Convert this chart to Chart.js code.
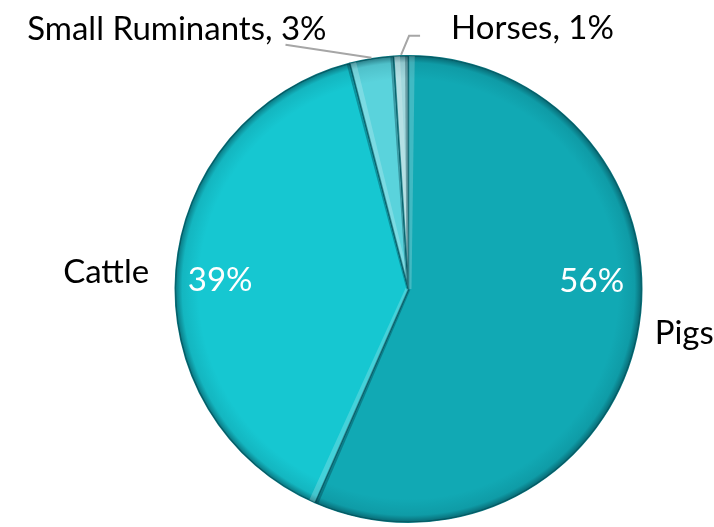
<!DOCTYPE html>
<html>
<head>
<meta charset="utf-8">
<script src="https://cdn.jsdelivr.net/npm/chart.js@4"></script>
<style>
  html, body { margin: 0; padding: 0; background: #fff; }
  #wrap { width: 714px; height: 527px; }
</style>
</head>
<body>
<div id="wrap"><canvas id="livestockChart"></canvas></div>
<script>
const categories = ["Pigs", "Cattle", "Small Ruminants", "Horses"];
const shares = [56, 39, 3, 1];
const sliceColors = ["#11a9b4", "#16c7d1", "#5ad3dc", "#a3d9de"];

const FONT = "Lato, 'Open Sans', sans-serif";

// soft bevel: dark rim along the outside, a shadow and a light seam along slice edges
const bevelPlugin = {
  id: "bevel",
  afterDatasetDraw(chart) {
    const ctx = chart.ctx;
    const arcs = chart.getDatasetMeta(0).data;
    arcs.forEach((arc) => {
      const { x, y, startAngle, endAngle, outerRadius } = arc.getProps(["x", "y", "startAngle", "endAngle", "outerRadius"], true);
      ctx.save();
      ctx.beginPath();
      ctx.moveTo(x, y);
      ctx.arc(x, y, outerRadius, startAngle, endAngle);
      ctx.closePath();
      ctx.clip();
      const g = ctx.createRadialGradient(x, y, outerRadius * 0.9, x, y, outerRadius);
      g.addColorStop(0, "rgba(0,60,70,0)");
      g.addColorStop(0.7, "rgba(0,60,70,0.12)");
      g.addColorStop(1, "rgba(0,50,60,0.55)");
      ctx.fillStyle = g;
      ctx.fillRect(x - outerRadius, y - outerRadius, outerRadius * 2, outerRadius * 2);
      const edge = (a, width, color) => {
        ctx.lineWidth = width;
        ctx.strokeStyle = color;
        ctx.beginPath();
        ctx.moveTo(x, y);
        ctx.lineTo(x + Math.cos(a) * outerRadius, y + Math.sin(a) * outerRadius);
        ctx.stroke();
      };
      edge(startAngle + 0.014, 6, "rgba(255,255,255,0.2)");
      edge(endAngle - 0.006, 4, "rgba(0,50,60,0.35)");
      ctx.restore();
    });
  },
};

// category and percentage labels, with leader lines for the thin slices
const labelPlugin = {
  id: "pieLabels",
  afterDraw(chart) {
    const ctx = chart.ctx;
    const arcs = chart.getDatasetMeta(0).data;
    ctx.save();
    ctx.textBaseline = "middle";
    ctx.font = "33px " + FONT;

    const polar = (arc, frac, r) => {
      const p = arc.getProps(["x", "y", "startAngle", "endAngle"], true);
      const a = p.startAngle + (p.endAngle - p.startAngle) * frac;
      return { x: p.x + Math.cos(a) * r, y: p.y + Math.sin(a) * r };
    };

    // Pigs
    let c = polar(arcs[0], 0.5, arcs[0].outerRadius * 0.75);
    ctx.fillStyle = "#ffffff";
    ctx.textAlign = "center";
    ctx.fillText(shares[0] + "%", c.x + 12, c.y - 43);
    ctx.fillStyle = "#000000";
    ctx.textAlign = "left";
    ctx.fillText(categories[0], c.x + 75, c.y + 9);

    // Cattle
    c = polar(arcs[1], 0.5, arcs[1].outerRadius * 0.75);
    ctx.fillStyle = "#ffffff";
    ctx.textAlign = "center";
    ctx.fillText(shares[1] + "%", c.x - 14, c.y + 5);
    ctx.fillStyle = "#000000";
    ctx.textAlign = "right";
    ctx.fillText(categories[1], c.x - 85, c.y - 3);

    // Small Ruminants
    ctx.strokeStyle = "#a6a6a6";
    ctx.lineWidth = 2;
    let e = polar(arcs[2], 0.5, arcs[2].outerRadius + 1);
    ctx.beginPath();
    ctx.moveTo(e.x, e.y);
    ctx.lineTo(e.x - 86, e.y - 13);
    ctx.stroke();
    ctx.textAlign = "right";
    ctx.fillText(categories[2] + ", " + shares[2] + "%", e.x - 45, e.y - 28);

    // Horses
    e = polar(arcs[3], 0.5, arcs[3].outerRadius + 1);
    ctx.beginPath();
    ctx.moveTo(e.x, e.y);
    ctx.lineTo(e.x + 8, e.y - 19);
    ctx.lineTo(e.x + 19, e.y - 19);
    ctx.stroke();
    ctx.textAlign = "left";
    ctx.fillText(categories[3] + ", " + shares[3] + "%", e.x + 50, e.y - 27);
    ctx.restore();
  },
};

new Chart(document.getElementById("livestockChart"), {
  type: "pie",
  data: {
    labels: categories,
    datasets: [
      {
        data: shares,
        backgroundColor: sliceColors,
        borderColor: "#0a7780",
        borderWidth: 1.5,
      },
    ],
  },
  options: {
    responsive: true,
    maintainAspectRatio: false,
    animation: false,
    layout: { padding: { left: 174, right: 71, top: 55, bottom: 4 } },
    plugins: {
      legend: { display: false },
      tooltip: { enabled: false },
    },
  },
  plugins: [bevelPlugin, labelPlugin],
});
</script>
</body>
</html>
